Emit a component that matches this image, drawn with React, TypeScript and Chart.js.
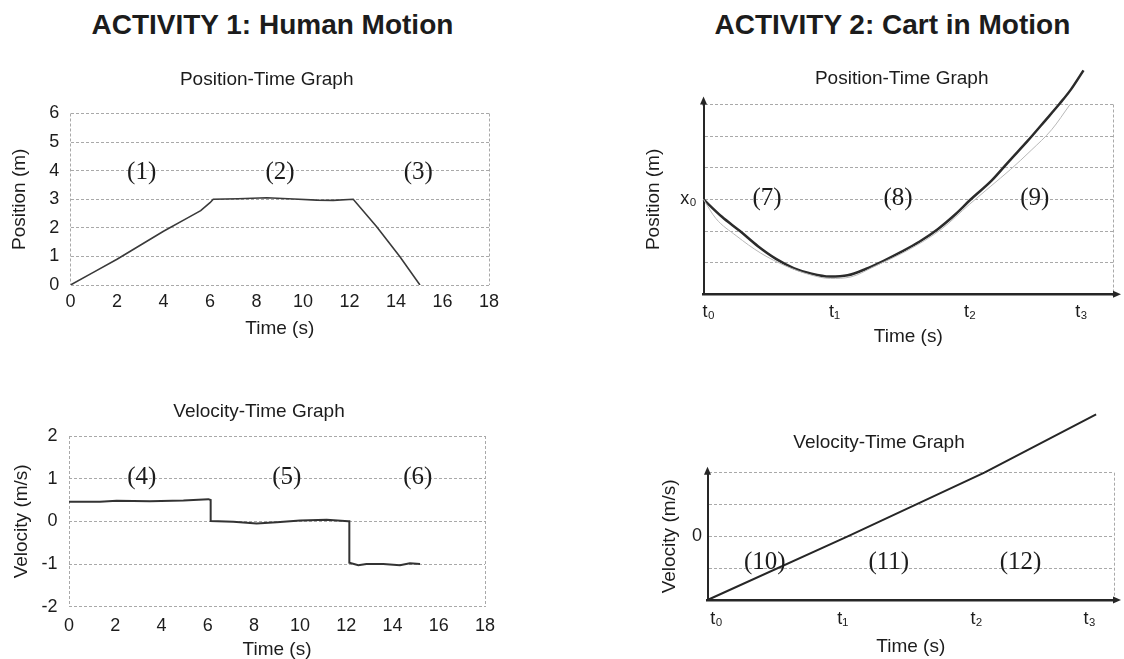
import React, { useEffect, useRef } from "react";
import { Chart, registerables } from "chart.js";

Chart.register(...registerables);

const SANS = '"Liberation Sans", Arial, Helvetica, sans-serif';
const SERIF = '"Liberation Serif", "Times New Roman", Times, serif';
const INK = "#1c1c1c";
const GRID = "#a9a9a9";
const CLEAR = "rgba(0,0,0,0)";

// ---------------- Text ----------------
const headers = ["ACTIVITY 1: Human Motion", "ACTIVITY 2: Cart in Motion"];
const graphTitles = ["Position-Time Graph", "Velocity-Time Graph"];
const timeTitle = "Time (s)";
const posTitle = "Position (m)";
const velTitle = "Velocity (m/s)";

// ---------------- Activity 1: Human Motion ----------------
const humanTimeRange = [0, 18];
const humanTimeStep = 2;
const humanPosRange = [0, 6];
const humanVelRange = [-2, 2];

const humanPosT = [0, 1.0, 2.0, 3.0, 4.0, 5.0, 5.6, 6.0, 6.14, 7.2, 8.44, 9.6, 10.59, 11.3, 12.16, 13.17, 14.17, 15.03];
const humanPosX = [0, 0.45, 0.9, 1.39, 1.88, 2.33, 2.6, 2.88, 3.0, 3.02, 3.05, 3.01, 2.97, 2.96, 3.0, 2.04, 0.99, 0];

const humanVelT = [0, 1.34, 2.06, 3.5, 4.95, 6.03, 6.13, 6.13, 7.11, 8.12, 8.99, 10.0, 11.15, 12.09, 12.13, 12.13, 12.52, 12.87, 13.6, 14.32, 14.75, 15.19];
const humanVelV = [0.46, 0.46, 0.48, 0.47, 0.49, 0.52, 0.5, 0.01, -0.01, -0.05, -0.02, 0.02, 0.04, 0.0, 0.0, -0.97, -1.03, -1.0, -1.0, -1.03, -0.98, -1.0];

const humanPosNotes = ["(1)", "(2)", "(3)"];
const humanPosNoteT = [3.06, 9.01, 14.96];
const humanPosNoteX = [3.9, 3.9, 3.9];

const humanVelNotes = ["(4)", "(5)", "(6)"];
const humanVelNoteT = [3.15, 9.42, 15.09];
const humanVelNoteV = [1.0, 1.0, 1.0];

// ---------------- Activity 2: Cart in Motion ----------------
const cartTimeRange = [0, 10];
const cartTimeLabels = ["t₀", "t₁", "t₂", "t₃"];
const cartPosTimeTicks = [0.13, 3.2, 6.51, 9.23];
const cartVelTimeTicks = [0.22, 3.33, 6.62, 9.4];
const cartPosRange = [0, 6];
const cartPosLabelValue = 3;
const cartPosLabel = "x₀";
const cartVelRange = [-2, 2];
const cartVelLabelValue = 0;
const cartVelLabel = "0";

const cartPosT = [0, 0.45, 0.89, 1.33, 1.77, 2.2, 2.64, 3.08, 3.52, 3.96, 4.4, 4.84, 5.28, 5.72, 6.16, 6.51, 7.04, 7.47, 7.91, 8.35, 8.7, 8.97, 9.28];
const cartPosX = [3.0, 2.45, 2.0, 1.52, 1.12, 0.83, 0.65, 0.56, 0.6, 0.8, 1.06, 1.35, 1.67, 2.06, 2.54, 2.98, 3.6, 4.22, 4.84, 5.5, 6.03, 6.47, 7.08];

const cartPosFaintT = [0, 0.3, 0.8, 1.4, 2.0, 2.6, 3.1, 3.6, 4.2, 5.0, 5.8, 6.5, 7.0, 7.5, 8.0, 8.5, 8.95];
const cartPosFaintX = [3.0, 2.4, 1.85, 1.3, 0.9, 0.62, 0.5, 0.55, 0.9, 1.4, 2.05, 2.85, 3.4, 3.95, 4.55, 5.2, 6.0];

const cartVelT = [0, 3.45, 6.81, 9.56];
const cartVelV = [-2, 0, 2, 3.83];

const cartPosNotes = ["(7)", "(8)", "(9)"];
const cartPosNoteT = [1.55, 4.75, 8.09];
const cartPosNoteX = [3.0, 3.0, 3.0];

const cartVelNotes = ["(10)", "(11)", "(12)"];
const cartVelNoteT = [1.41, 4.46, 7.7];
const cartVelNoteV = [-0.84, -0.84, -0.84];

// ---------------- Layout (page pixels) ----------------
const TITLE_SIZE = 19;
const AXIS_TITLE_SIZE = 19;
const TICK_SIZE = 18;

type Spec = {
  canvas: { left: number; top: number; width: number; height: number };
  area: { left: number; top: number; right: number; bottom: number };
  titleCenterX: number;
  titleY: number;
  yTitleX: number;
  yTickRight: number;
  xTickY: number;
  xTitleY: number;
};

const specHumanPos: Spec = {
  canvas: { left: 0, top: 0, width: 562, height: 345 },
  area: { left: 70.5, top: 113.5, right: 489, bottom: 285 },
  titleCenterX: 266.7,
  titleY: 80,
  yTitleX: 20,
  yTickRight: 59.3,
  xTickY: 302,
  xTitleY: 329,
};
const specHumanVel: Spec = {
  canvas: { left: 0, top: 340, width: 562, height: 325 },
  area: { left: 69, top: 436, right: 485, bottom: 606.7 },
  titleCenterX: 259,
  titleY: 411.7,
  yTitleX: 21.7,
  yTickRight: 57.5,
  xTickY: 626.5,
  xTitleY: 650,
};
const specCartPos: Spec = {
  canvas: { left: 562, top: 0, width: 700, height: 360 },
  area: { left: 703.5, top: 104.5, right: 1113, bottom: 294.3 },
  titleCenterX: 901.7,
  titleY: 78.3,
  yTitleX: 653.5,
  yTickRight: 696.7,
  xTickY: 311.7,
  xTitleY: 336.7,
};
const specCartVel: Spec = {
  canvas: { left: 562, top: 360, width: 660, height: 299 },
  area: { left: 707.5, top: 472.7, right: 1114, bottom: 600 },
  titleCenterX: 879,
  titleY: 442.7,
  yTitleX: 669.7,
  yTickRight: 702,
  xTickY: 619,
  xTitleY: 646.7,
};

function layoutFor(spec: Spec) {
  const c = spec.canvas;
  const aR = spec.area.right - c.left;
  const aT = spec.area.top - c.top;
  const aB = spec.area.bottom - c.top;
  const spanRight = 2 * (spec.titleCenterX - c.left);
  const titleLH = TITLE_SIZE * 1.2;
  const axisLH = AXIS_TITLE_SIZE * 1.2;
  const tickLH = TICK_SIZE * 1.2;
  const titlePadTop = spec.titleY - c.top - titleLH / 2;
  const xHeight = spec.xTitleY - spec.area.bottom + axisLH / 2;
  return {
    yWidth: spec.area.left - c.left,
    padRight: c.width - spanRight,
    dummyWidth: spanRight - aR,
    titlePadTop,
    titlePadBottom: aT - titlePadTop - titleLH,
    xHeight,
    padBottom: c.height - aB - xHeight,
    xTickPad: spec.xTickY - spec.area.bottom - tickLH / 2,
    yTickPad: spec.area.left - spec.yTickRight,
    yTitlePad: spec.yTitleX - c.left - axisLH / 2,
  };
}

function makeNotesPlugin(texts: string[], xs: number[], ys: number[]) {
  return {
    id: "notes",
    afterDatasetsDraw(chart: any) {
      const { ctx, scales } = chart;
      ctx.save();
      ctx.font = `25px ${SERIF}`;
      ctx.fillStyle = INK;
      ctx.textAlign = "center";
      ctx.textBaseline = "middle";
      texts.forEach((t, i) => {
        ctx.fillText(t, scales.x.getPixelForValue(xs[i]), scales.y.getPixelForValue(ys[i]) - 1);
      });
      ctx.restore();
    },
  };
}

function makeArrowPlugin(up: number, side: number) {
  return {
    id: "arrows",
    afterDraw(chart: any) {
      const { ctx, chartArea } = chart;
      const { left, right, top, bottom } = chartArea;
      ctx.save();
      ctx.strokeStyle = "#262626";
      ctx.fillStyle = "#262626";
      ctx.lineWidth = 2;
      ctx.beginPath();
      ctx.moveTo(left, top + 1);
      ctx.lineTo(left, top - up + 5);
      ctx.stroke();
      ctx.beginPath();
      ctx.moveTo(left, top - up);
      ctx.lineTo(left - 3.5, top - up + 8);
      ctx.lineTo(left + 3.5, top - up + 8);
      ctx.closePath();
      ctx.fill();
      ctx.beginPath();
      ctx.moveTo(right - 1, bottom);
      ctx.lineTo(right + side - 5, bottom);
      ctx.stroke();
      ctx.beginPath();
      ctx.moveTo(right + side, bottom);
      ctx.lineTo(right + side - 8, bottom - 3.5);
      ctx.lineTo(right + side - 8, bottom + 3.5);
      ctx.closePath();
      ctx.fill();
      ctx.restore();
    },
  };
}

type Params = {
  spec: Spec;
  datasets: any[];
  title: string;
  yTitle: string;
  xRange: number[];
  xStep?: number;
  xTickValues?: number[];
  xTickLabels?: string[];
  xGridAt: number[];
  yRange: number[];
  yLabel: (v: number) => string;
  solidAxes: boolean;
  plugins: any[];
};

function buildConfig(p: Params): any {
  const L = layoutFor(p.spec);
  const xScale: any = {
    type: "linear",
    position: "bottom",
    min: p.xRange[0],
    max: p.xRange[1],
    afterFit: (s: any) => {
      s.height = L.xHeight;
    },
    ticks: {
      font: { size: TICK_SIZE, family: SANS },
      color: INK,
      padding: L.xTickPad,
      maxRotation: 0,
      autoSkip: false,
    },
    grid: {
      drawTicks: false,
      lineWidth: 1,
      color: (ctx: any) => (ctx.tick && p.xGridAt.includes(ctx.tick.value) ? GRID : CLEAR),
    },
    border: p.solidAxes
      ? { display: true, color: "#262626", width: 2.5, dash: [3, 2] }
      : { display: false, dash: [3, 2] },
    title: {
      display: true,
      text: timeTitle,
      font: { size: AXIS_TITLE_SIZE, family: SANS },
      color: INK,
      padding: 0,
    },
  };
  if (p.xStep !== undefined) xScale.ticks.stepSize = p.xStep;
  if (p.xTickValues) {
    const vals = p.xTickValues;
    const labels = p.xTickLabels || [];
    xScale.afterBuildTicks = (s: any) => {
      s.ticks = [...vals, p.xRange[1]].map((v) => ({ value: v }));
    };
    xScale.ticks.callback = (_v: any, i: number) => (i < labels.length ? labels[i] : "");
  }

  return {
    type: "line",
    data: { datasets: p.datasets },
    plugins: p.plugins,
    options: {
      animation: false,
      responsive: false,
      maintainAspectRatio: false,
      layout: {
        autoPadding: false,
        padding: { left: 0, top: 0, right: L.padRight, bottom: L.padBottom },
      },
      elements: { point: { radius: 0 } },
      plugins: {
        legend: { display: false },
        tooltip: { enabled: false },
        title: {
          display: true,
          text: p.title,
          color: INK,
          font: { size: TITLE_SIZE, family: SANS, weight: "normal" },
          padding: { top: L.titlePadTop, bottom: L.titlePadBottom },
          fullSize: true,
        },
      },
      scales: {
        x: xScale,
        y: {
          type: "linear",
          position: "left",
          min: p.yRange[0],
          max: p.yRange[1],
          afterFit: (s: any) => {
            s.width = L.yWidth;
          },
          ticks: {
            stepSize: 1,
            font: { size: TICK_SIZE, family: SANS },
            color: INK,
            padding: L.yTickPad,
            callback: (v: any) => p.yLabel(Number(v)),
          },
          grid: { drawTicks: false, color: GRID, lineWidth: 1 },
          border: p.solidAxes
            ? { display: true, color: "#262626", width: 2, dash: [3, 2] }
            : { display: false, dash: [3, 2] },
          title: {
            display: true,
            text: p.yTitle,
            font: { size: AXIS_TITLE_SIZE, family: SANS },
            color: INK,
            padding: { top: L.yTitlePad, bottom: 0 },
          },
        },
        yr: {
          type: "linear",
          position: "right",
          display: true,
          afterFit: (s: any) => {
            s.width = L.dummyWidth;
          },
          ticks: { display: false },
          grid: { display: false, drawTicks: false },
          border: { display: false },
        },
      },
    },
  };
}

const pts = (xs: number[], ys: number[]) => xs.map((x, i) => ({ x, y: ys[i] }));

function ChartCanvas({ spec, make }: { spec: Spec; make: () => any }) {
  const ref = useRef<HTMLCanvasElement>(null);
  useEffect(() => {
    const chart = new Chart(ref.current as HTMLCanvasElement, make());
    return () => chart.destroy();
  }, []);
  const c = spec.canvas;
  return (
    <canvas
      ref={ref}
      width={c.width}
      height={c.height}
      style={{ position: "absolute", left: c.left, top: c.top, width: c.width, height: c.height }}
    />
  );
}

const makeHumanPos = () =>
  buildConfig({
    spec: specHumanPos,
    title: graphTitles[0],
    yTitle: posTitle,
    xRange: humanTimeRange,
    xStep: humanTimeStep,
    xGridAt: humanTimeRange,
    yRange: humanPosRange,
    yLabel: (v) => String(v),
    solidAxes: false,
    datasets: [
      {
        data: pts(humanPosT, humanPosX),
        borderColor: "#3a3a3a",
        borderWidth: 1.6,
        tension: 0,
        fill: false,
      },
    ],
    plugins: [makeNotesPlugin(humanPosNotes, humanPosNoteT, humanPosNoteX)],
  });

const makeHumanVel = () =>
  buildConfig({
    spec: specHumanVel,
    title: graphTitles[1],
    yTitle: velTitle,
    xRange: humanTimeRange,
    xStep: humanTimeStep,
    xGridAt: humanTimeRange,
    yRange: humanVelRange,
    yLabel: (v) => String(v),
    solidAxes: false,
    datasets: [
      {
        data: pts(humanVelT, humanVelV),
        borderColor: "#333333",
        borderWidth: 2,
        tension: 0,
        fill: false,
      },
    ],
    plugins: [makeNotesPlugin(humanVelNotes, humanVelNoteT, humanVelNoteV)],
  });

const makeCartPos = () =>
  buildConfig({
    spec: specCartPos,
    title: graphTitles[0],
    yTitle: posTitle,
    xRange: cartTimeRange,
    xTickValues: cartPosTimeTicks,
    xTickLabels: cartTimeLabels,
    xGridAt: [cartTimeRange[1]],
    yRange: cartPosRange,
    yLabel: (v) => (v === cartPosLabelValue ? cartPosLabel : ""),
    solidAxes: true,
    datasets: [
      {
        data: pts(cartPosFaintT, cartPosFaintX),
        borderColor: "#b8b8b8",
        borderWidth: 1,
        cubicInterpolationMode: "monotone",
        fill: false,
        clip: false,
      },
      {
        data: pts(cartPosT, cartPosX),
        borderColor: "#2b2b2b",
        borderWidth: 2.5,
        cubicInterpolationMode: "monotone",
        fill: false,
        clip: false,
      },
    ],
    plugins: [makeNotesPlugin(cartPosNotes, cartPosNoteT, cartPosNoteX), makeArrowPlugin(8, 8)],
  });

const makeCartVel = () =>
  buildConfig({
    spec: specCartVel,
    title: graphTitles[1],
    yTitle: velTitle,
    xRange: cartTimeRange,
    xTickValues: cartVelTimeTicks,
    xTickLabels: cartTimeLabels,
    xGridAt: [cartTimeRange[1]],
    yRange: cartVelRange,
    yLabel: (v) => (v === cartVelLabelValue ? cartVelLabel : ""),
    solidAxes: true,
    datasets: [
      {
        data: pts(cartVelT, cartVelV),
        borderColor: "#262626",
        borderWidth: 2,
        tension: 0,
        fill: false,
        clip: false,
      },
    ],
    plugins: [makeNotesPlugin(cartVelNotes, cartVelNoteT, cartVelNoteV), makeArrowPlugin(6, 7)],
  });

const headerStyle = (centerX: number): React.CSSProperties => ({
  position: "absolute",
  left: centerX - 300,
  width: 600,
  top: 11,
  textAlign: "center",
  fontFamily: SANS,
  fontWeight: "bold",
  fontSize: 28,
  lineHeight: "28px",
  color: INK,
  whiteSpace: "nowrap",
});

export default function App() {
  return (
    <div
      style={{
        position: "absolute",
        left: 0,
        top: 0,
        width: 1124,
        height: 659,
        overflow: "hidden",
        background: "#ffffff",
      }}
    >
      <div style={headerStyle(272.4)}>{headers[0]}</div>
      <div style={headerStyle(892.4)}>{headers[1]}</div>
      <ChartCanvas spec={specHumanPos} make={makeHumanPos} />
      <ChartCanvas spec={specHumanVel} make={makeHumanVel} />
      <ChartCanvas spec={specCartPos} make={makeCartPos} />
      <ChartCanvas spec={specCartVel} make={makeCartVel} />
    </div>
  );
}
